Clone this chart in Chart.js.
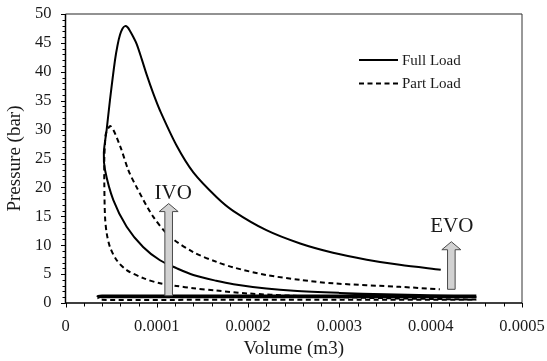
<!DOCTYPE html>
<html>
<head>
<meta charset="utf-8">
<script src="https://cdn.jsdelivr.net/npm/chart.js@4"></script>
<style>
  html, body { margin: 0; padding: 0; background: #fff; }
  #wrap { width: 547px; height: 361px; }
</style>
</head>
<body>
<div id="wrap"><canvas id="chart" width="547" height="361"></canvas></div>
<script>
// volume (m3) and pressure (bar) along each cycle: compression, combustion,
// expansion up to EVO, then a break and the gas exchange loop
const fullVol = [0.00045, 0.0004, 0.00035, 0.0003, 0.00025, 0.00022, 0.000184, 0.000165, 0.00014, 0.000122,
  0.0001035, 0.000085, 0.000067, 0.0000524, 0.0000433, 0.000042, 0.0000451, 0.0000487, 0.0000542, 0.000057,
  0.0000597, 0.0000625, 0.0000652, 0.000068, 0.0000705, 0.000074, 0.000078, 0.0000835, 0.0000889, 0.000096,
  0.0001035, 0.0001218, 0.00014, 0.0001656, 0.000184, 0.00022, 0.000257, 0.000293, 0.00033, 0.000366,
  0.000411, null,
  0.00045, 0.0003, 0.00015, 0.00004, 0.000035, 0.00004, 0.00015, 0.0003, 0.00045];
const fullPress = [1.25, 1.35, 1.5, 1.75, 2.1, 2.5, 3.25, 3.85, 4.85, 6.0,
  7.4, 9.7, 13.2, 17.8, 23, 26, 30, 35.1, 42, 44.6,
  46.4, 47.5, 47.9, 47.7, 47.1, 46.1, 44.8, 42.2, 39.5, 36.3,
  33.3, 27.2, 22.6, 18.3, 15.9, 12.6, 10.3, 8.7, 7.5, 6.6,
  5.75, null,
  1.3, 1.3, 1.3, 1.3, 1.15, 1.0, 1.0, 1.0, 1.0];

const partVol = [0.00045, 0.0004, 0.00035, 0.0003, 0.00025, 0.0002, 0.000165, 0.00014, 0.0001218, 0.0001035,
  0.0000852, 0.000067, 0.0000561, 0.0000487, 0.0000451, 0.0000433, 0.0000425, 0.0000425, 0.0000433, 0.0000444,
  0.0000495, 0.0000597, 0.0000688, 0.000078, 0.0000962, 0.0001145, 0.00014, 0.0001656, 0.000184, 0.00022,
  0.000257, 0.000293, 0.000366, 0.00041, null,
  0.00045, 0.0003, 0.00015, 0.000038, 0.000036, 0.000038, 0.00015, 0.0003, 0.00045];
const partPress = [0.6, 0.7, 0.85, 1.0, 1.25, 1.65, 2.15, 2.55, 2.95, 3.4,
  4.3, 5.7, 7.4, 9.7, 12.1, 14.9, 20.7, 25, 27.6, 29.4,
  30.6, 27.2, 23, 20.0, 14.9, 11.5, 8.8, 7.1, 6.15, 4.84,
  4.0, 3.4, 2.8, 2.37, null,
  1.05, 1.05, 1.05, 1.05, 0.8, 0.55, 0.55, 0.55, 0.55];

const seriesNames = ["Full Load", "Part Load"];
const xTickLabels = ["0", "0.0001", "0.0002", "0.0003", "0.0004", "0.0005"];
const yTickLabels = ["0", "5", "10", "15", "20", "25", "30", "35", "40", "45", "50"];

// valve events: volume of the arrow and the pressure range it spans
const ivoArrow = { label: "IVO", v: 0.000113, from: 1.26, to: 17.2, dx: 4.5, dy: 5 };
const evoArrow = { label: "EVO", v: 0.0004226, from: 2.37, to: 10.6, dx: 0.5, dy: 10 };

const serif = "'Liberation Serif', 'Times New Roman', serif";
const ink = "#1a1a1a";

function toPoints(vol, press) {
  return vol.map((v, i) => ({ x: v, y: press[i] }));
}

function drawArrow(ctx, chart, a) {
  const x = chart.scales.x.getPixelForValue(a.v);
  const yBot = chart.scales.y.getPixelForValue(a.from);
  const yTop = chart.scales.y.getPixelForValue(a.to);
  const shaft = 3.8, head = 9.5, headH = 8;
  ctx.save();
  ctx.beginPath();
  ctx.moveTo(x - shaft, yBot);
  ctx.lineTo(x - shaft, yTop + headH);
  ctx.lineTo(x - head, yTop + headH);
  ctx.lineTo(x, yTop);
  ctx.lineTo(x + head, yTop + headH);
  ctx.lineTo(x + shaft, yTop + headH);
  ctx.lineTo(x + shaft, yBot);
  ctx.closePath();
  ctx.fillStyle = "#d2d2d2";
  ctx.fill();
  ctx.lineWidth = 1;
  ctx.strokeStyle = "#4a4a4a";
  ctx.stroke();

  ctx.fillStyle = ink;
  ctx.font = "21px " + serif;
  ctx.textAlign = "center";
  ctx.textBaseline = "alphabetic";
  ctx.fillText(a.label, x + a.dx, yTop - a.dy);
  ctx.restore();
}

const decorations = {
  id: "decorations",
  afterDatasetsDraw(chart) {
    const ctx = chart.ctx;
    const area = chart.chartArea;
    const xs = chart.scales.x, ys = chart.scales.y;

    drawArrow(ctx, chart, ivoArrow);
    drawArrow(ctx, chart, evoArrow);

    // frame
    ctx.save();
    ctx.lineWidth = 1.5;
    ctx.strokeStyle = "#6e6e6e";
    ctx.beginPath();
    ctx.moveTo(area.left, area.top);
    ctx.lineTo(area.right, area.top);
    ctx.stroke();
    ctx.strokeStyle = "#333";
    ctx.lineWidth = 1;
    ctx.beginPath();
    ctx.moveTo(area.right, area.top);
    ctx.lineTo(area.right, area.bottom);
    ctx.stroke();
    ctx.strokeStyle = "#000";
    ctx.lineWidth = 1.5;
    ctx.beginPath();
    ctx.moveTo(area.left, area.top);
    ctx.lineTo(area.left, area.bottom);
    ctx.lineTo(area.right, area.bottom);
    ctx.stroke();

    // major and minor tick marks
    ctx.lineWidth = 1;
    ctx.beginPath();
    for (let p = 0; p <= 50; p++) {
      const y = Math.round(ys.getPixelForValue(p)) + 0.5;
      const len = p % 5 === 0 ? 4.5 : 3;
      ctx.moveTo(area.left - len, y);
      ctx.lineTo(area.left, y);
    }
    for (let k = 0; k <= 25; k++) {
      const x = Math.round(xs.getPixelForValue(k * 0.00002)) + 0.5;
      const len = k % 5 === 0 ? 4.5 : 3.5;
      ctx.moveTo(x, area.bottom);
      ctx.lineTo(x, area.bottom + len);
    }
    ctx.stroke();
    ctx.restore();

    // legend
    ctx.save();
    ctx.font = "15px " + serif;
    ctx.fillStyle = ink;
    ctx.textBaseline = "middle";
    chart.data.datasets.forEach((ds, i) => {
      const y = 60 + i * 23.5;
      ctx.strokeStyle = "#000";
      ctx.lineWidth = 2;
      ctx.setLineDash(ds.borderDash || []);
      ctx.beginPath();
      ctx.moveTo(359, y);
      ctx.lineTo(398, y);
      ctx.stroke();
      ctx.fillText(ds.label, 402, y + 1);
    });
    ctx.restore();
  }
};

new Chart(document.getElementById("chart").getContext("2d"), {
  type: "line",
  data: {
    datasets: [
      {
        label: seriesNames[0],
        data: toPoints(fullVol, fullPress),
        borderColor: "#000",
        borderWidth: 2,
        pointRadius: 0,
        tension: 0.3,
        fill: false,
      },
      {
        label: seriesNames[1],
        data: toPoints(partVol, partPress),
        borderColor: "#000",
        borderWidth: 2,
        borderDash: [5, 3.5],
        pointRadius: 0,
        tension: 0.3,
        fill: false,
      },
    ],
  },
  options: {
    responsive: false,
    animation: false,
    devicePixelRatio: 1,
    layout: { padding: { top: 14, right: 25, left: 0, bottom: 0 } },
    plugins: {
      legend: { display: false },
      tooltip: { enabled: false },
    },
    scales: {
      x: {
        type: "linear",
        min: 0,
        max: 0.0005,
        grid: { display: false, drawTicks: false },
        border: { display: false },
        ticks: {
          stepSize: 0.0001,
          color: ink,
          padding: 14,
          font: { family: serif, size: 16.5 },
          callback: (value, index) => xTickLabels[index],
        },
        title: {
          display: true,
          text: "Volume (m3)",
          color: ink,
          font: { family: serif, size: 19 },
          padding: { top: 0, bottom: 1 },
        },
        afterFit: (scale) => {
          scale.height = 58;
          scale.paddingLeft = 0;
          scale.paddingRight = 0;
        },
      },
      y: {
        type: "linear",
        min: 0,
        max: 50,
        grid: { display: false, drawTicks: false },
        border: { display: false },
        ticks: {
          stepSize: 5,
          color: ink,
          padding: 14,
          font: { family: serif, size: 16.5 },
          callback: (value, index) => yTickLabels[index],
        },
        title: {
          display: true,
          text: "Pressure (bar)",
          color: ink,
          font: { family: serif, size: 19 },
          padding: { top: 4, bottom: 0 },
        },
        afterFit: (scale) => {
          scale.width = 65.5;
          scale.paddingTop = 0;
          scale.paddingBottom = 0;
        },
      },
    },
  },
  plugins: [decorations],
});
</script>
</body>
</html>
